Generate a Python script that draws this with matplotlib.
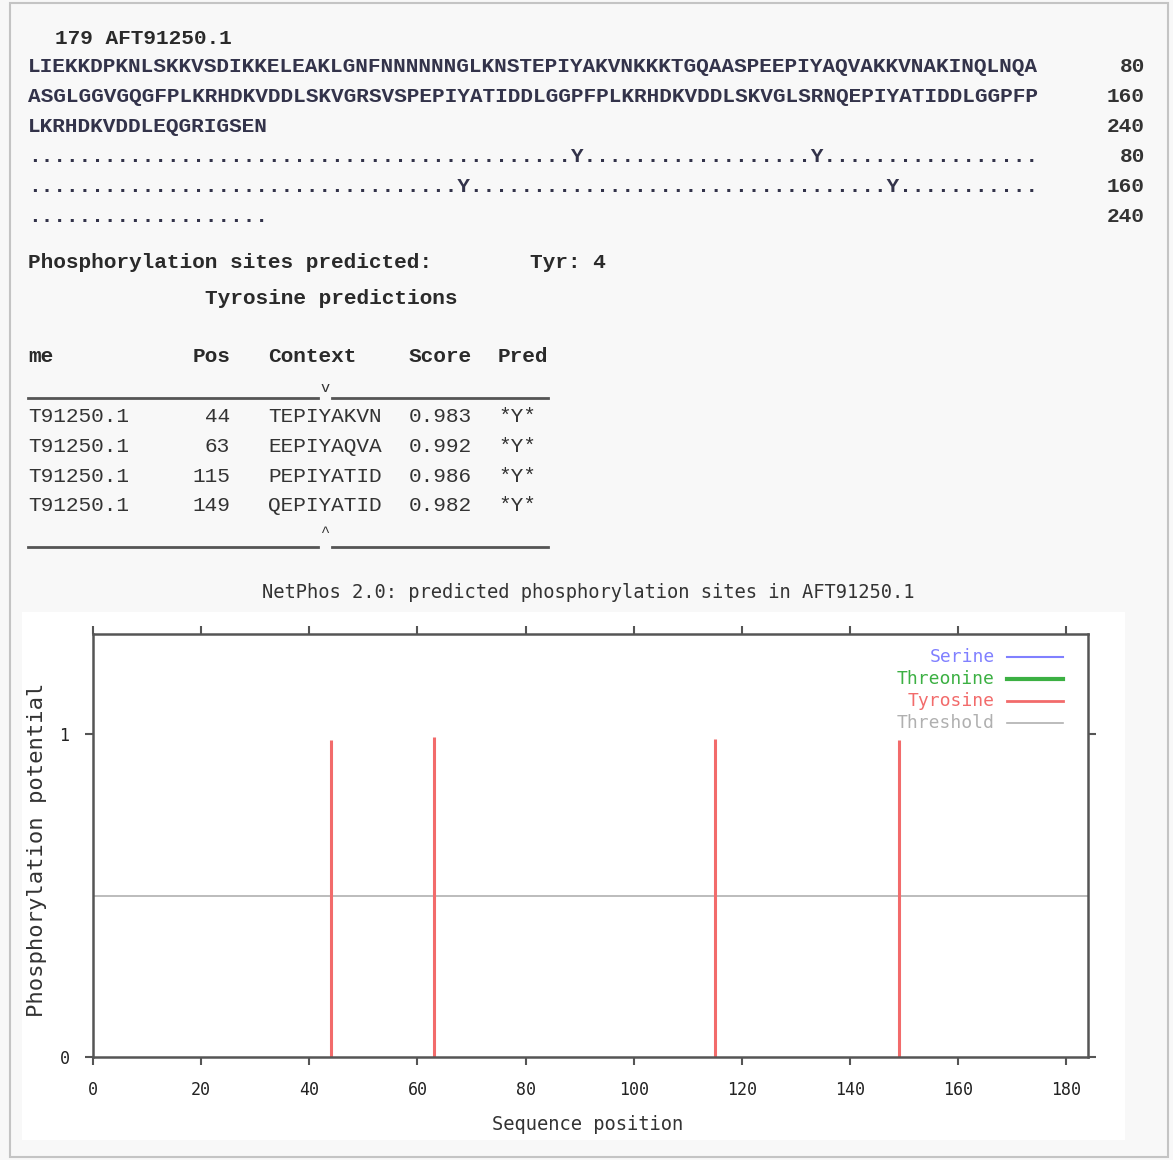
import matplotlib.pyplot as plt
from matplotlib.lines import Line2D
from matplotlib.patches import Rectangle

W, H = 1173, 1160

# data
seq_id = 'AFT91250.1'
sequence = ('LIEKKDPKNLSKKVSDIKKELEAKLGNFNNNNNNGLKNSTEPIYAKVNKKKTGQAASPEEPIYAQVAKKVNAKINQLNQA'
            'ASGLGGVGQGFPLKRHDKVDDLSKVGRSVSPEPIYATIDDLGGPFPLKRHDKVDDLSKVGLSRNQEPIYATIDDLGGPFP'
            'LKRHDKVDDLEQGRIGSEN')
line_ends = ['80', '160', '240']
names = ['T91250.1', 'T91250.1', 'T91250.1', 'T91250.1']
sites = [44, 63, 115, 149]
contexts = ['TEPIYAKVN', 'EEPIYAQVA', 'PEPIYATID', 'QEPIYATID']
scores = [0.983, 0.992, 0.986, 0.982]
preds = ['*Y*', '*Y*', '*Y*', '*Y*']
threshold = 0.5
legend_labels = ['Serine', 'Threonine', 'Tyrosine', 'Threshold']
legend_colors = ['#8080ff', '#3cb043', '#f26b6b', '#b0b0b0']
legend_widths = [1.5, 3.0, 2.0, 1.2]
xticks = [0, 20, 40, 60, 80, 100, 120, 140, 160, 180]

fig = plt.figure(figsize=(W / 100, H / 100), dpi=100, facecolor='#f8f8f8')


def px(x, y):
    return x / W, 1 - y / H


mono = 'Liberation Mono'
txt_col = '#33334a'
fs = 15.2

# frame and white lower panel (behind the axes)
fig.patches.append(Rectangle(px(10, 1157), (1168 - 10) / W, (1157 - 3) / H, transform=fig.transFigure,
                             facecolor='none', edgecolor='#c4c4c4', lw=1.5, zorder=-2))
fig.patches.append(Rectangle(px(22, 1140), (1125 - 22) / W, (1140 - 612) / H, transform=fig.transFigure,
                             facecolor='white', edgecolor='none', zorder=-1))

# sequence block
fig.text(*px(55, 38), f'{len(sequence)} {seq_id}', family=mono, weight='bold', fontsize=fs,
         color='#2a2a2a', va='center')
chunks = [sequence[i:i + 80] for i in range(0, len(sequence), 80)]
dots = []
for c_i, chunk in enumerate(chunks):
    s = ''
    for j in range(len(chunk)):
        s += 'Y' if (c_i * 80 + j + 1) in sites else '.'
    dots.append(s)
for i, chunk in enumerate(chunks):
    fig.text(*px(28, 67 + 30 * i), chunk, family=mono, weight='bold', fontsize=fs, color=txt_col, va='center')
    fig.text(*px(1145, 67 + 30 * i), line_ends[i], family=mono, weight='bold', fontsize=fs,
             color='#333333', va='center', ha='right')
for i, d in enumerate(dots):
    fig.text(*px(28, 157 + 30 * i), d, family=mono, weight='bold', fontsize=fs, color=txt_col, va='center')
    fig.text(*px(1145, 157 + 30 * i), line_ends[i], family=mono, weight='bold', fontsize=fs,
             color='#333333', va='center', ha='right')

# prediction table
fig.text(*px(28, 262), 'Phosphorylation sites predicted:', family=mono, weight='bold', fontsize=fs,
         color='#2a2a2a', va='center')
fig.text(*px(530, 262), f'Tyr: {len(sites)}', family=mono, weight='bold', fontsize=fs,
         color='#2a2a2a', va='center')
fig.text(*px(205, 298), 'Tyrosine predictions', family=mono, weight='bold', fontsize=fs,
         color='#2a2a2a', va='center')
for x, t, ha in [(28, 'me', 'left'), (230, 'Pos', 'right'), (268, 'Context', 'left'),
                 (409, 'Score', 'left'), (498, 'Pred', 'left')]:
    fig.text(*px(x, 357), t, family=mono, weight='bold', fontsize=fs, color='#2a2a2a', va='center', ha=ha)
fig.text(*px(325, 388), 'v', family=mono, fontsize=11, color='#333333', va='center', ha='center')
fig.text(*px(325, 532), '^', family=mono, fontsize=11, color='#333333', va='center', ha='center')
for yy in [398, 547]:
    for x0, x1 in [(28, 318), (332, 548)]:
        fig.add_artist(Line2D([x0 / W, x1 / W], [1 - yy / H, 1 - yy / H], transform=fig.transFigure,
                              color='#555555', lw=2))
for i in range(len(sites)):
    y = 417 + 29.5 * i
    fig.text(*px(28, y), names[i], family=mono, fontsize=fs, color='#333333', va='center')
    fig.text(*px(230, y), str(sites[i]), family=mono, fontsize=fs, color='#333333', va='center', ha='right')
    fig.text(*px(268, y), contexts[i], family=mono, fontsize=fs, color='#333333', va='center')
    fig.text(*px(409, y), f'{scores[i]:.3f}', family=mono, fontsize=fs, color='#333333', va='center')
    fig.text(*px(498, y), preds[i], family=mono, fontsize=fs, color='#333333', va='center')

# NetPhos graph
gfont = 'DejaVu Sans Mono'
ax = fig.add_axes([93 / W, 1 - 1057 / H, (1088 - 93) / W, (1057 - 634) / H])
ax.set_facecolor('white')
ax.axhline(threshold, color=legend_colors[3], lw=1.2)
ax.vlines(sites, 0, scores, color=legend_colors[2], lw=2.2)
ax.set_xlim(0, 184)
ax.set_ylim(0, 1.31)
ax.set_xticks(xticks)
ax.set_yticks([0, 1])
ax.tick_params(direction='out', length=6, width=1.5, color='#555555', top=True, right=True,
               labelsize=12, pad=11)
for lab in ax.get_xticklabels() + ax.get_yticklabels():
    lab.set_family(gfont)
    lab.set_color('#222222')
for sp in ax.spines.values():
    sp.set_color('#555555')
    sp.set_linewidth(1.8)

fig.text(*px(588, 593), f'NetPhos 2.0: predicted phosphorylation sites in {seq_id}', family=gfont,
         fontsize=13.5, color='#333333', ha='center', va='center')
ax.set_xlabel('Sequence position', family=gfont, fontsize=13.5, color='#333333')
ax.xaxis.set_label_coords(0.4975, -0.138)
ax.set_ylabel('Phosphorylation potential', family=gfont, fontsize=16, color='#333333')
ax.yaxis.set_label_coords(-0.046, 0.49)

# legend drawn gnuplot style: label right-aligned, sample line to the right
for i, lab in enumerate(legend_labels):
    y = (1057 - (657 + 22 * i)) / 423
    ax.text(0.9065, y, lab, transform=ax.transAxes, family=gfont, fontsize=13,
            color=legend_colors[i], ha='right', va='center')
    ax.plot([0.9186, 0.9749], [y, y], transform=ax.transAxes, color=legend_colors[i], lw=legend_widths[i])

fig.savefig('out.png', dpi=100, facecolor=fig.get_facecolor())
